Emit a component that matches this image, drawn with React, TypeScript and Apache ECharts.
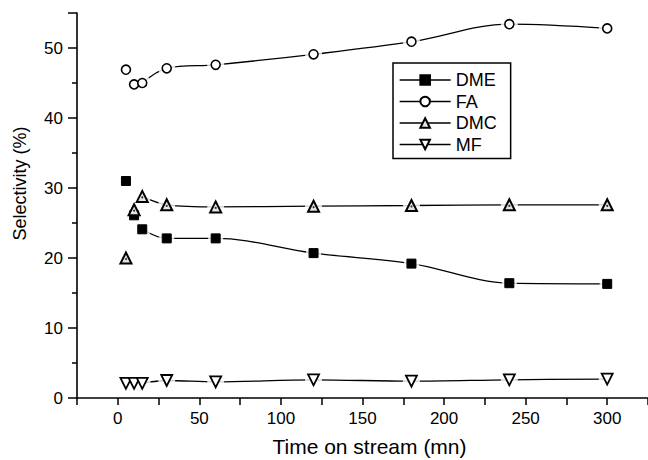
import React, { useEffect, useRef } from "react";
import * as echarts from "echarts";

const times = [5, 10, 15, 30, 60, 120, 180, 240, 300];
const dme = [31.0, 26.1, 24.1, 22.8, 22.8, 20.7, 19.2, 16.4, 16.3];
const fa = [46.9, 44.8, 45.0, 47.1, 47.6, 49.1, 50.9, 53.4, 52.8];
const dmc = [20.0, 26.9, 28.8, 27.6, 27.3, 27.4, 27.5, 27.6, 27.6];
const mf = [2.1, 2.1, 2.1, 2.5, 2.3, 2.6, 2.4, 2.6, 2.7];

const xLabels = [0, 50, 100, 150, 200, 250, 300];
const yLabels = [0, 10, 20, 30, 40, 50];
const yMinorTicks = [5, 15, 25, 35, 45];

const FONT = "Liberation Sans, Arial, Helvetica, sans-serif";

const pairs = (vals: number[]) => times.map((t, i) => [t, vals[i]]);

export default function App() {
  const ref = useRef<HTMLDivElement>(null);
  useEffect(() => {
    if (!ref.current) return;
    const chart = echarts.init(ref.current, undefined, { renderer: "svg" });

    const defs = [
      { name: "DME", data: dme, symbol: "rect", size: 9, rotate: 0, item: { color: "#000", borderColor: "#000", borderWidth: 1 } },
      { name: "FA", data: fa, symbol: "circle", size: 9, rotate: 0, item: { color: "#fff", borderColor: "#000", borderWidth: 1.6 } },
      { name: "DMC", data: dmc, symbol: "triangle", size: 11, rotate: 0, item: { color: "#e4e4e4", borderColor: "#000", borderWidth: 2 } },
      { name: "MF", data: mf, symbol: "triangle", size: 11, rotate: 180, item: { color: "#fff", borderColor: "#000", borderWidth: 1.8 } },
    ];

    const series: any[] = [];
    defs.forEach((d) => {
      series.push({
        name: d.name + " curve",
        type: "line",
        data: pairs(d.data).slice(2),
        smooth: 0.35,
        symbol: "none",
        lineStyle: { color: "#000", width: 1.3 },
        z: 1,
        silent: true,
      });
      series.push({
        name: d.name + " halo",
        type: "scatter",
        data: pairs(d.data),
        symbol: d.symbol === "rect" ? "rect" : "circle",
        symbolSize: d.symbol === "rect" ? 15 : 17,
        itemStyle: { color: "#fff" },
        z: 2,
        silent: true,
      });
      series.push({
        name: d.name,
        type: "line",
        data: pairs(d.data),
        symbol: d.symbol,
        symbolSize: d.size,
        symbolRotate: d.rotate,
        showAllSymbol: true,
        lineStyle: { opacity: 0, width: 0 },
        itemStyle: d.item,
        z: 3,
        silent: true,
      });
    });
    series.push({
      name: "DMC dot",
      type: "scatter",
      data: pairs(dmc),
      symbol: "circle",
      symbolSize: 2,
      symbolOffset: [0, 1],
      itemStyle: { color: "#000" },
      z: 4,
      silent: true,
    });

    const tickLine = { color: "#000", width: 1.5 };
    const gridRect = { left: 77, right: 0, top: 13, bottom: 62, containLabel: false, outerBoundsMode: "none" };

    chart.setOption({
      animation: false,
      backgroundColor: "#fff",
      textStyle: { fontFamily: FONT, color: "#000" },
      grid: [gridRect, { ...gridRect }],
      legend: {
        data: ["DME", "FA", "DMC", "MF"],
        orient: "vertical",
        left: 393,
        top: 63,
        itemWidth: 51,
        itemHeight: 12,
        itemGap: 3.5,
        padding: [8, 14, 5, 6],
        borderColor: "#000",
        borderWidth: 1.5,
        borderRadius: 0,
        backgroundColor: "#fff",
        lineStyle: { color: "#000", width: 1.3, opacity: 1 },
        textStyle: { fontFamily: FONT, fontSize: 18, color: "#000" },
        selectedMode: false,
      },
      xAxis: [
        {
          type: "value",
          gridIndex: 0,
          min: -25,
          max: 325,
          interval: 25,
          position: "bottom",
          name: "Time on stream (mn)",
          nameLocation: "middle",
          nameGap: 38,
          nameTextStyle: { fontFamily: FONT, fontSize: 21, color: "#000", padding: [0, 0, 0, 14] },
          axisLine: { show: true, onZero: false, lineStyle: { color: "#000", width: 1.6 } },
          axisTick: { show: true, length: 7, lineStyle: tickLine },
          axisLabel: { show: true, customValues: xLabels, margin: 12, fontSize: 17, color: "#000", fontFamily: FONT },
          splitLine: { show: false },
        },
        {
          type: "value",
          gridIndex: 1,
          min: -25,
          max: 325,
          position: "bottom",
          axisLine: { show: false, onZero: false },
          axisTick: { show: false },
          axisLabel: { show: false },
          splitLine: { show: false },
        },
      ],
      yAxis: [
        {
          type: "value",
          gridIndex: 0,
          min: 0,
          max: 55,
          interval: 10,
          position: "left",
          name: "Selectivity (%)",
          nameLocation: "middle",
          nameGap: 48,
          nameTextStyle: { fontFamily: FONT, fontSize: 18, color: "#000", padding: [0, 0, 0, 44] },
          axisLine: { show: true, onZero: false, lineStyle: { color: "#000", width: 1.6 } },
          axisTick: { show: true, length: 9, lineStyle: tickLine },
          axisLabel: { show: true, customValues: yLabels, margin: 14, fontSize: 17, color: "#000", fontFamily: FONT },
          splitLine: { show: false },
        },
        {
          type: "value",
          gridIndex: 1,
          min: 0,
          max: 55,
          position: "left",
          axisLine: { show: false, onZero: false },
          axisTick: { show: true, length: 5, customValues: yMinorTicks, lineStyle: tickLine },
          axisLabel: { show: false },
          splitLine: { show: false },
        },
      ],
      series,
    });
    return () => chart.dispose();
  }, []);

  return (
    <div
      ref={ref}
      style={{ position: "fixed", left: 0, top: 0, width: 648, height: 460, background: "#fff" }}
    />
  );
}
